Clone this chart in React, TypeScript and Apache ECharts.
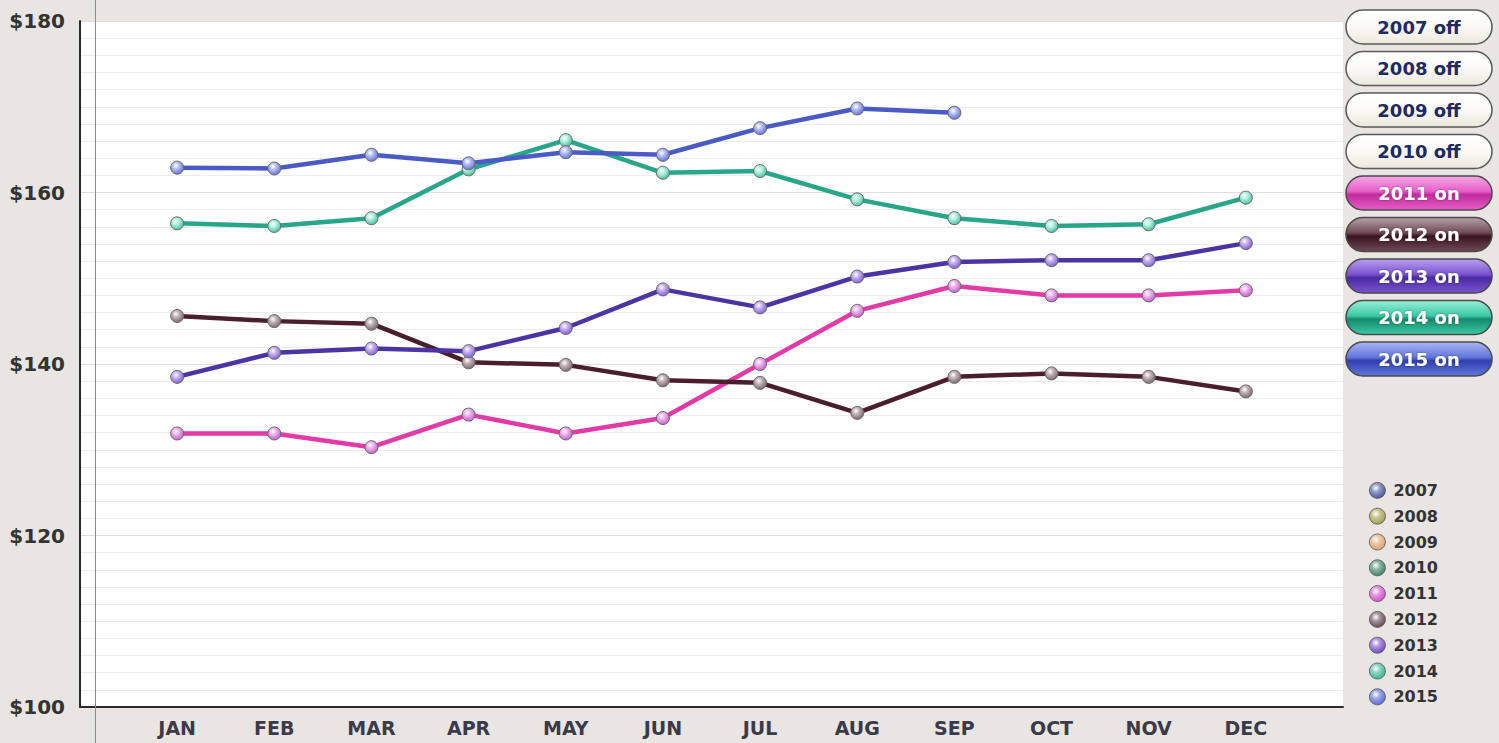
import React, { useEffect, useRef } from "react";
import * as echarts from "echarts";

const months = ["JAN", "FEB", "MAR", "APR", "MAY", "JUN", "JUL", "AUG", "SEP", "OCT", "NOV", "DEC"];
const years = ["2007", "2008", "2009", "2010", "2011", "2012", "2013", "2014", "2015"];
const yearOn = [false, false, false, false, true, true, true, true, true];

const v2011 = [131.9, 131.9, 130.3, 134.1, 131.9, 133.7, 140.0, 146.2, 149.1, 148.0, 148.0, 148.6];
const v2012 = [145.6, 145.0, 144.7, 140.2, 139.9, 138.1, 137.8, 134.3, 138.5, 138.9, 138.5, 136.8];
const v2013 = [138.5, 141.3, 141.8, 141.5, 144.2, 148.7, 146.6, 150.2, 151.9, 152.1, 152.1, 154.1];
const v2014 = [156.4, 156.1, 157.0, 162.7, 166.1, 162.3, 162.5, 159.2, 157.0, 156.1, 156.3, 159.4];
const v2015 = [162.9, 162.8, 164.4, 163.4, 164.7, 164.4, 167.5, 169.8, 169.3];

const seriesValues: Record<string, number[]> = {
  "2007": [],
  "2008": [],
  "2009": [],
  "2010": [],
  "2011": v2011,
  "2012": v2012,
  "2013": v2013,
  "2014": v2014,
  "2015": v2015,
};

const lineColors: Record<string, string> = {
  "2007": "#3a4898",
  "2008": "#9a9a3a",
  "2009": "#e09a5a",
  "2010": "#2a7a5a",
  "2011": "#e23aa6",
  "2012": "#4b1e2c",
  "2013": "#4a35a3",
  "2014": "#27a68a",
  "2015": "#4a5bc6",
};
const markerLight: Record<string, string> = {
  "2011": "#eeb0ec",
  "2012": "#c0b0b8",
  "2013": "#c4aef0",
  "2014": "#b0f2de",
  "2015": "#b4bcf4",
};
const markerDark: Record<string, string> = {
  "2011": "#b650c6",
  "2012": "#6a5a62",
  "2013": "#7352c4",
  "2014": "#34b292",
  "2015": "#5464cc",
};
const legendIcon: Record<string, string> = {
  "2007": "#3a4898",
  "2008": "#9a9a3a",
  "2009": "#e09a5a",
  "2010": "#2a7a5a",
  "2011": "#d040c8",
  "2012": "#5a3a48",
  "2013": "#6a3ac0",
  "2014": "#28b08c",
  "2015": "#4a60d0",
};
const buttonGrad: Record<string, string[]> = {
  "2011": ["#f7a6e6", "#e65fc8", "#c02a9c"],
  "2012": ["#b8a2aa", "#6e4a56", "#3a1420"],
  "2013": ["#b9a0f0", "#7a54d0", "#4a2aa0"],
  "2014": ["#98f0d8", "#3cc8a4", "#158a6c"],
  "2015": ["#aab6f6", "#6276dc", "#3040b0"],
};

function radial(light: string, dark: string) {
  return {
    type: "radial",
    x: 0.4,
    y: 0.35,
    r: 0.75,
    colorStops: [
      { offset: 0, color: "#ffffff" },
      { offset: 0.35, color: light },
      { offset: 1, color: dark },
    ],
  };
}

function lighten(hex: string, amt: number) {
  const n = parseInt(hex.slice(1), 16);
  const r = (n >> 16) & 255, g = (n >> 8) & 255, b = n & 255;
  const f = (c: number) => Math.round(c + (255 - c) * amt);
  return "rgb(" + f(r) + "," + f(g) + "," + f(b) + ")";
}

export default function App() {
  const ref = useRef<HTMLDivElement>(null);
  useEffect(() => {
    document.body.style.margin = "0";
    if (!ref.current) return;
    const chart = echarts.init(ref.current, undefined, { renderer: "svg" });
    const cats = ["", ...months, ""];

    const series = years.map((y) => {
      const vals = seriesValues[y];
      const data: (number | null)[] = [null, ...vals];
      const light = markerLight[y] || lighten(lineColors[y], 0.5);
      const dark = markerDark[y] || lineColors[y];
      return {
        name: y,
        type: "line",
        data,
        color: lineColors[y],
        symbol: "circle",
        symbolSize: 13,
        showSymbol: true,
        lineStyle: { width: 4.5, color: lineColors[y] },
        itemStyle: { color: radial(light, dark), borderColor: "#6a6a6a", borderWidth: 1 },
        emphasis: { disabled: true },
      };
    });

    const buttons: any[] = [];
    years.forEach((y, i) => {
      const top = 10 + i * 41.5;
      const on = yearOn[i];
      const g = buttonGrad[y];
      const fill = on
        ? {
            type: "linear", x: 0, y: 0, x2: 0, y2: 1,
            colorStops: [
              { offset: 0, color: g[0] },
              { offset: 0.45, color: g[1] },
              { offset: 0.55, color: g[2] },
              { offset: 1, color: g[1] },
            ],
          }
        : {
            type: "linear", x: 0, y: 0, x2: 0, y2: 1,
            colorStops: [
              { offset: 0, color: "#ffffff" },
              { offset: 0.5, color: "#fbfaf6" },
              { offset: 1, color: "#ebe8dc" },
            ],
          };
      buttons.push({
        type: "rect",
        shape: { x: 1346, y: top, width: 146, height: 34, r: 17 },
        style: { fill, stroke: on ? "#4a4a4a" : "#5a5a5a", lineWidth: 1.5 },
        z: 10,
      });
      buttons.push({
        type: "text",
        x: 1419,
        y: top + 17,
        style: {
          text: y + (on ? " on" : " off"),
          fill: on ? "#ffffff" : "#1e2a62",
          font: "bold 18px 'DejaVu Sans', Verdana, sans-serif",
          align: "center",
          verticalAlign: "middle",
          textShadowColor: on ? "rgba(0,0,0,0.35)" : "transparent",
          textShadowBlur: on ? 2 : 0,
        },
        z: 11,
      });
    });
    buttons.push({
      type: "line",
      shape: { x1: 95.5, y1: 0, x2: 95.5, y2: 743 },
      style: { stroke: "#8a8a8a", lineWidth: 1 },
      z: 20,
    });

    chart.setOption({
      animation: false,
      backgroundColor: "#e8e5e3",
      grid: {
        left: 80,
        right: 156,
        top: 21,
        bottom: 36,
        show: true,
        backgroundColor: "#ffffff",
        borderWidth: 0,
        containLabel: false,
      },
      xAxis: {
        type: "category",
        data: cats,
        boundaryGap: false,
        axisLine: { show: true, onZero: false, lineStyle: { color: "#2a2a2a", width: 2 } },
        axisTick: { show: false },
        splitLine: { show: false },
        axisLabel: {
          interval: 0,
          margin: 11,
          color: "#3a3a48",
          fontSize: 19,
          fontWeight: "bold",
          fontFamily: "'DejaVu Sans', Verdana, sans-serif",
        },
      },
      yAxis: {
        type: "value",
        min: 100,
        max: 180,
        interval: 20,
        axisLine: { show: true, lineStyle: { color: "#2a2a2a", width: 2 } },
        axisTick: { show: false },
        splitLine: { show: true, lineStyle: { color: "#dedede", width: 1 } },
        minorTick: { show: false, splitNumber: 10 },
        minorSplitLine: { show: true, lineStyle: { color: "#ececec", width: 1 } },
        axisLabel: {
          formatter: (v: number) => "$" + v,
          margin: 15,
          color: "#333333",
          fontSize: 20,
          fontWeight: "bold",
          fontFamily: "'DejaVu Sans', Verdana, sans-serif",
        },
      },
      legend: {
        orient: "vertical",
        left: 1364,
        top: 477,
        itemWidth: 16,
        itemHeight: 16,
        itemGap: 9,
        selectedMode: false,
        icon: "circle",
        data: years.map((y) => ({
          name: y,
          icon: "circle",
          itemStyle: { color: radial(lighten(legendIcon[y], 0.45), legendIcon[y]), borderColor: "#555", borderWidth: 0.8 },
        })),
        textStyle: {
          color: "#333333",
          fontSize: 16,
          fontWeight: "bold",
          fontFamily: "'DejaVu Sans', Verdana, sans-serif",
          padding: [0, 0, 0, 3],
        },
      },
      tooltip: { show: false },
      graphic: buttons,
      series,
    });
    return () => chart.dispose();
  }, []);
  return (
    <div style={{ position: "fixed", left: 0, top: 0, width: 1499, height: 743 }}>
      <div ref={ref} style={{ width: 1499, height: 743 }} />
    </div>
  );
}
